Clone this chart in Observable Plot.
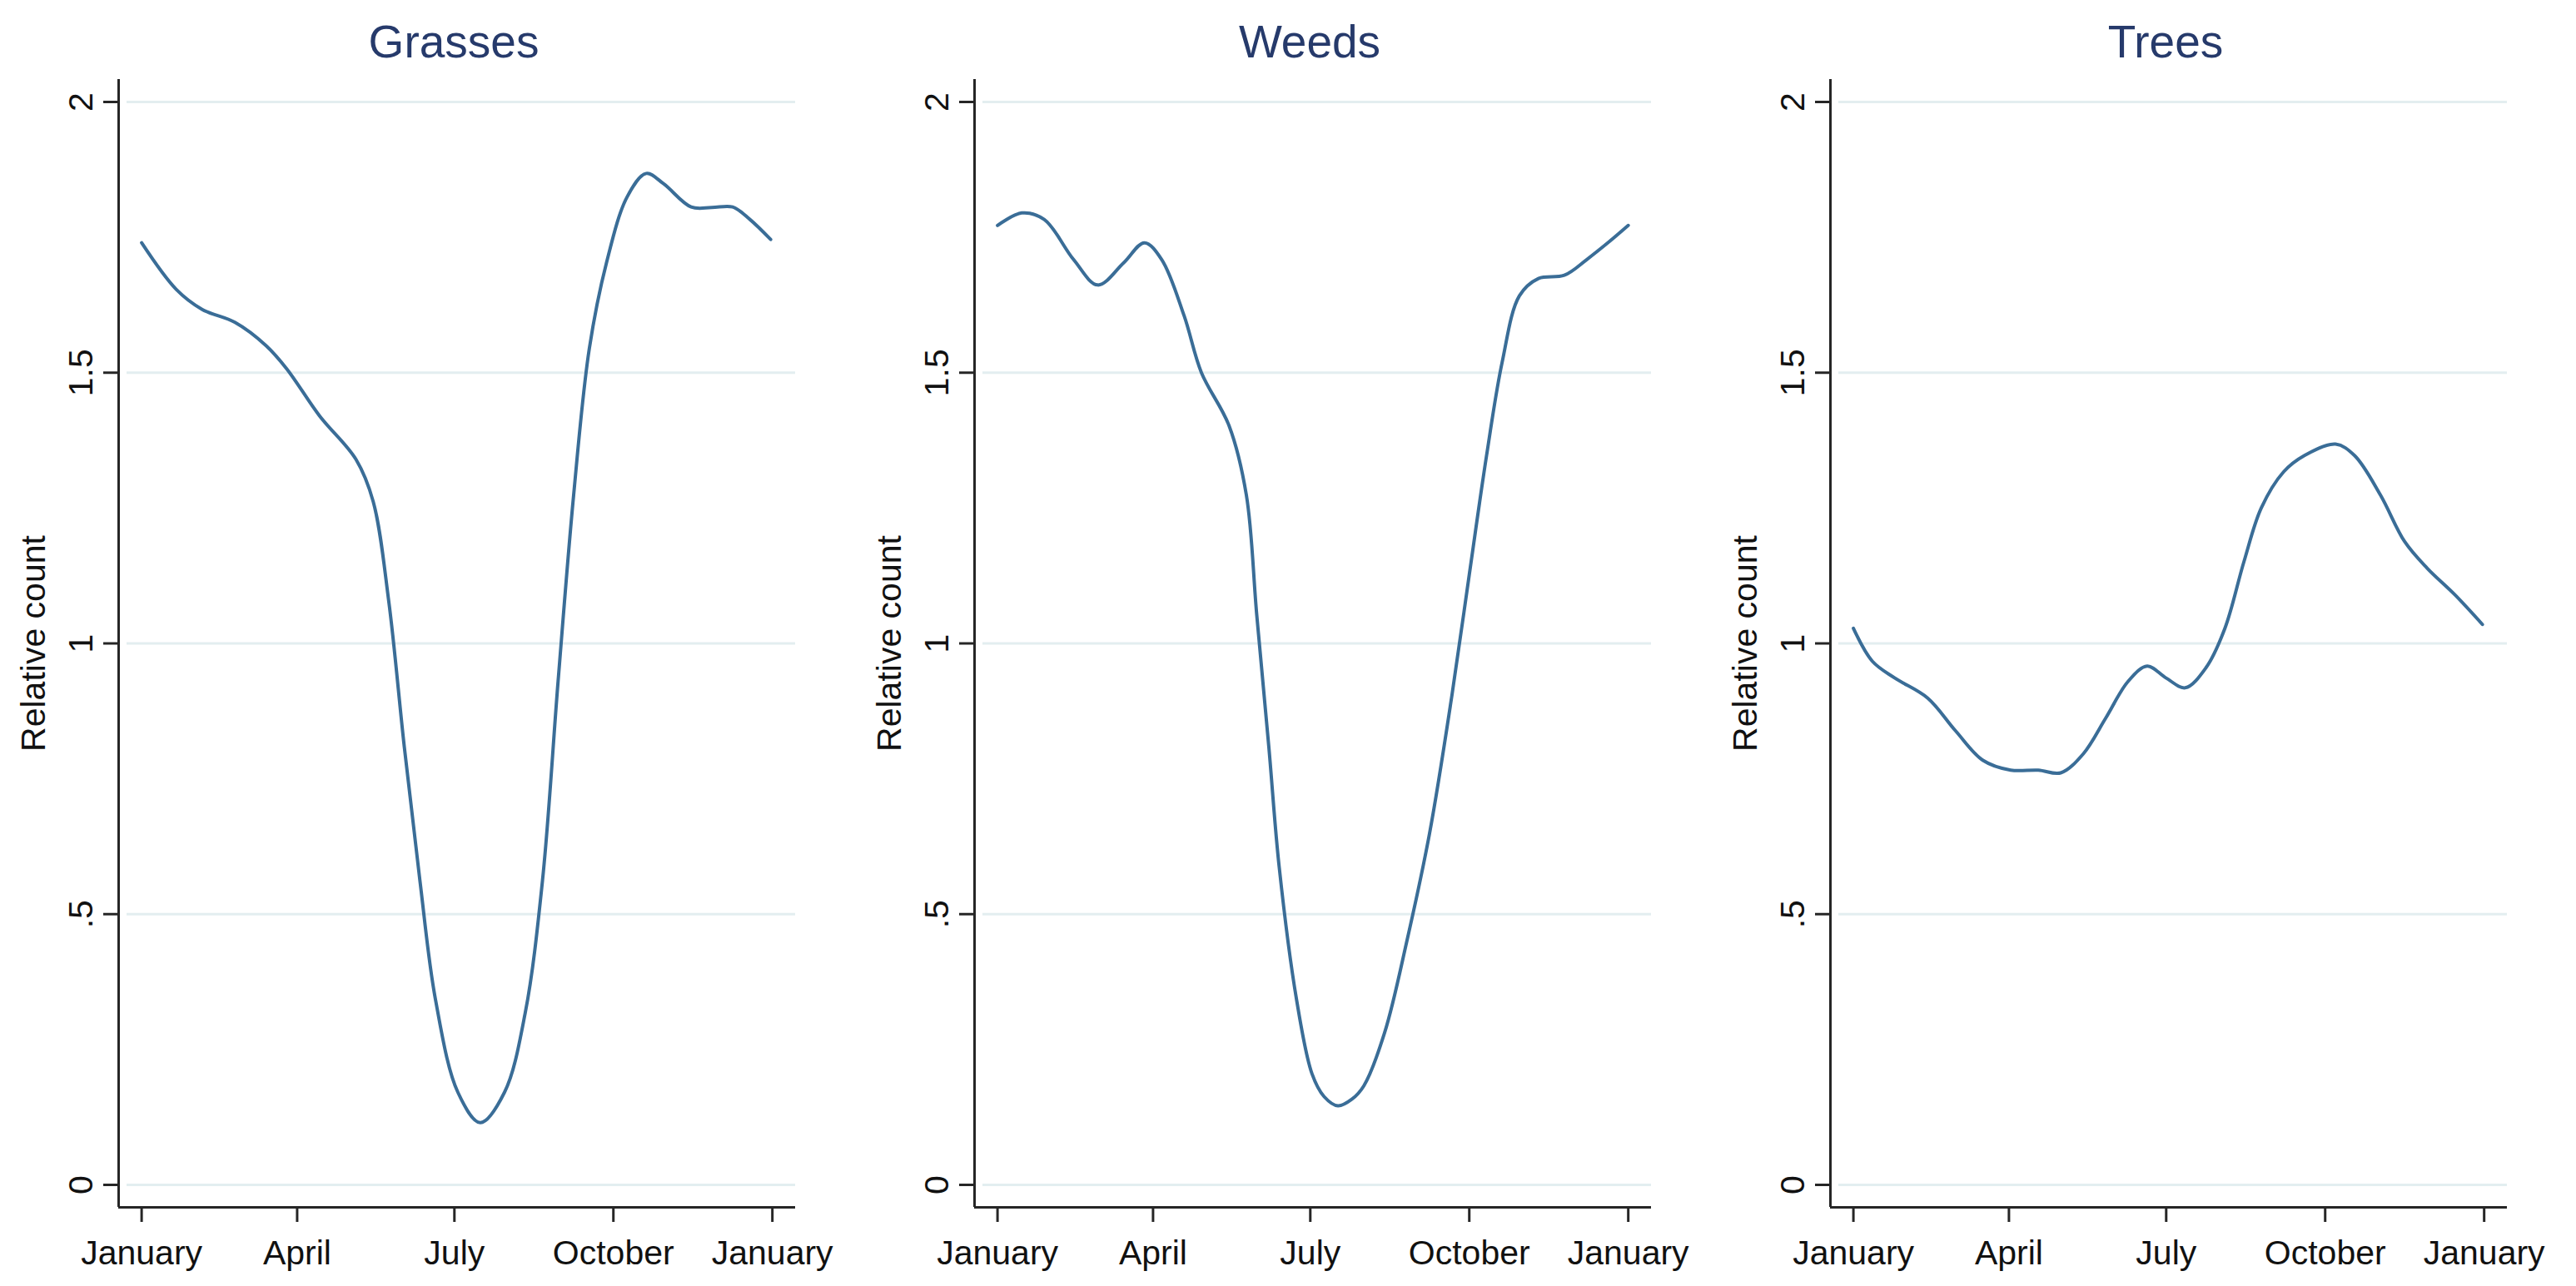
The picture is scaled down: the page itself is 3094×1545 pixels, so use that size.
<!DOCTYPE html>
<html>
<head>
<meta charset="utf-8">
<script src="https://cdn.jsdelivr.net/npm/d3@7"></script>
<script src="https://cdn.jsdelivr.net/npm/@observablehq/plot@0.6"></script>
<style>
html, body { margin: 0; padding: 0; background: #ffffff; }
#wrap { position: relative; width: 3094px; height: 1545px; overflow: hidden; }
.panel { position: absolute; top: 0; }
</style>
</head>
<body>
<div id="wrap"></div>
<script>
// ---- data ----
const titles = ["Grasses", "Weeds", "Trees"];

const grassesDay = [0, 20, 35, 54, 72, 84, 103, 124, 134, 143, 152, 161, 170, 183, 196, 210, 222, 232, 241, 250, 259, 269, 281, 292, 302, 318, 330, 342, 352, 364];
const grassesVal = [1.740, 1.654, 1.617, 1.593, 1.550, 1.507, 1.420, 1.340, 1.262, 1.078, 0.809, 0.563, 0.343, 0.171, 0.115, 0.171, 0.318, 0.563, 0.930, 1.274, 1.543, 1.703, 1.825, 1.868, 1.849, 1.806, 1.805, 1.806, 1.783, 1.746];

const weedsDay = [0, 14, 27, 44, 58, 73, 85, 95, 108, 118, 134, 144, 150, 157, 163, 173, 182, 189, 197, 205, 212, 224, 237, 250, 263, 273, 283, 292, 302, 313, 328, 341, 354, 365];
const weedsVal = [1.772, 1.795, 1.783, 1.709, 1.662, 1.703, 1.740, 1.709, 1.605, 1.500, 1.402, 1.274, 1.053, 0.809, 0.587, 0.343, 0.205, 0.163, 0.146, 0.158, 0.183, 0.281, 0.452, 0.649, 0.905, 1.127, 1.347, 1.519, 1.642, 1.674, 1.680, 1.709, 1.742, 1.772];

const treesDay = [0, 11, 24, 43, 59, 75, 91, 107, 120, 133, 146, 159, 170, 181, 192, 204, 215, 226, 236, 249, 261, 279, 290, 305, 319, 332, 348, 364];
const treesVal = [1.028, 0.967, 0.936, 0.899, 0.839, 0.784, 0.766, 0.766, 0.761, 0.796, 0.862, 0.930, 0.958, 0.936, 0.918, 0.955, 1.028, 1.151, 1.250, 1.317, 1.347, 1.368, 1.347, 1.274, 1.188, 1.139, 1.090, 1.035];

const monthTicks = [0, 90, 181, 273, 365];
const monthLabels = ["January", "April", "July", "October", "January"];
const yTicks = [0, 0.5, 1, 1.5, 2];
const yTickLabels = ["0", ".5", "1", "1.5", "2"];
const yLabel = "Relative count";

// ---- drawing ----
const panels = [
  {title: titles[0], day: grassesDay, val: grassesVal},
  {title: titles[1], day: weedsDay, val: weedsVal},
  {title: titles[2], day: treesDay, val: treesVal}
];
const xDomain = [-13.3, 378.4];
const yDomain = [-0.0415, 2.0415];
const lefts = [0, 1028, 2056];
const fontFamily = "'Liberation Sans', Arial, Helvetica, sans-serif";
const axisColor = "#262626";
const wrap = document.getElementById("wrap");

panels.forEach((p, i) => {
  const data = p.day.map((d, j) => ({day: d, val: p.val[j]}));
  const chart = Plot.plot({
    width: 1028,
    height: 1545,
    marginLeft: 142,
    marginRight: 73,
    marginTop: 95,
    marginBottom: 95,
    style: {fontFamily, fontSize: "41px", background: "transparent", overflow: "visible", color: "#111"},
    x: {domain: xDomain},
    y: {domain: yDomain},
    marks: [
      Plot.ruleY(yTicks, {stroke: "#e3eef0", strokeWidth: 3, insetLeft: 10}),
      Plot.ruleX([xDomain[0]], {stroke: axisColor, strokeWidth: 3}),
      Plot.ruleY([yDomain[0]], {stroke: axisColor, strokeWidth: 3}),
      Plot.axisX({
        ticks: monthTicks,
        tickFormat: d => monthLabels[monthTicks.indexOf(d)],
        tickSize: 18, tickPadding: 21, strokeWidth: 3, stroke: axisColor,
        label: null, fill: "#111"
      }),
      Plot.axisY({
        ticks: yTicks,
        tickFormat: d => yTickLabels[yTicks.indexOf(d)],
        tickSize: 18, tickPadding: 14, tickRotate: -90, strokeWidth: 3, stroke: axisColor,
        label: yLabel, labelAnchor: "center", labelArrow: "none", labelOffset: 118, fill: "#111"
      }),
      Plot.line(data, {x: "day", y: "val", curve: "catmull-rom", stroke: "#3a6d97", strokeWidth: 4}),
      Plot.text([p.title], {frameAnchor: "top", lineAnchor: "middle", dy: -44, dx: -4, fontSize: 55, fill: "#263a6b"})
    ]
  });
  const div = document.createElement("div");
  div.className = "panel";
  div.style.left = lefts[i] + "px";
  div.appendChild(chart);
  wrap.appendChild(div);
});
</script>
</body>
</html>
